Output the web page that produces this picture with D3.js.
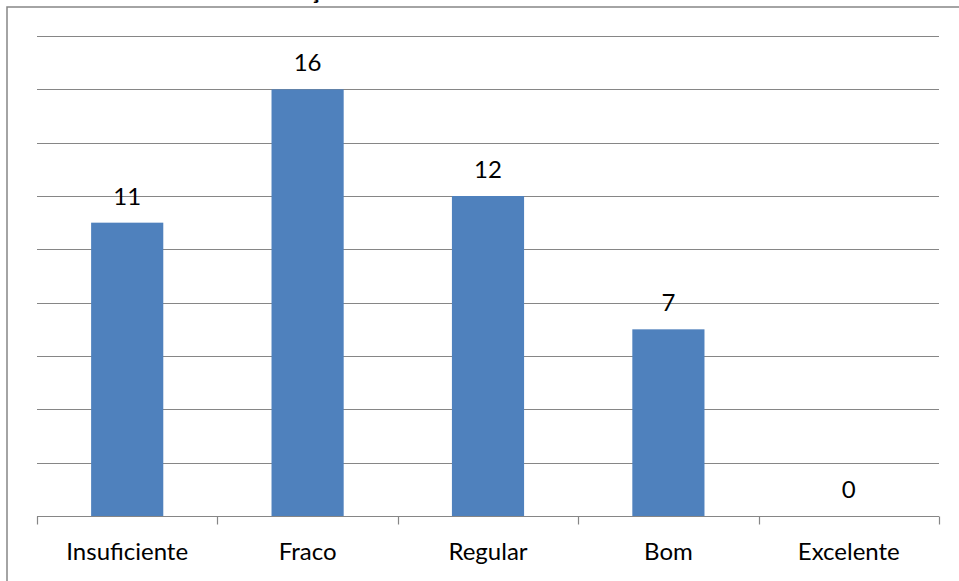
<!DOCTYPE html>
<html>
<head>
<meta charset="utf-8">
<script src="https://cdn.jsdelivr.net/npm/d3@7"></script>
<style>
html,body{margin:0;padding:0;background:#fff;}
svg{display:block;}
</style>
</head>
<body>
<svg id="chart" width="959" height="581"></svg>
<script>
const categories = ["Insuficiente", "Fraco", "Regular", "Bom", "Excelente"];
const values = [11, 16, 12, 7, 0];
const yTicks = [0, 2, 4, 6, 8, 10, 12, 14, 16, 18];
const titleFragment = "ç";

const svg = d3.select("#chart");
const W = 959, H = 581;
const m = {left: 37, right: 20, top: 36, bottom: 65};
const plotRight = W - m.right;
const plotBottom = H - m.bottom;
const FONT = "Lato, 'Open Sans', sans-serif";

// chart frame
svg.append("rect")
  .attr("x", 7).attr("y", 7)
  .attr("width", W + 20).attr("height", H + 20)
  .attr("fill", "#fff").attr("stroke", "#868686").attr("stroke-width", 1.5);

// clipped title fragment (the title runs off the top edge in the reference)
svg.append("text")
  .attr("x", 315).attr("y", -1)
  .attr("text-anchor", "middle")
  .attr("font-family", FONT).attr("font-weight", "bold").attr("font-size", 24)
  .attr("fill", "#000")
  .text(titleFragment);

const x = d3.scaleBand().domain(categories).range([m.left, plotRight]);
const y = d3.scaleLinear().domain([0, 18]).range([plotBottom, m.top]);

// gridlines
svg.append("g").selectAll("line").data(yTicks.filter(d => d > 0)).join("line")
  .attr("x1", m.left).attr("x2", plotRight)
  .attr("y1", d => Math.round(y(d)) + 0.5).attr("y2", d => Math.round(y(d)) + 0.5)
  .attr("stroke", "#868686").attr("stroke-width", 1.2);

// bars
const bw = x.bandwidth() * 0.4;
svg.append("g").selectAll("rect").data(values).join("rect")
  .attr("x", (d, i) => x(categories[i]) + x.bandwidth() / 2 - bw / 2)
  .attr("width", bw)
  .attr("y", d => y(d))
  .attr("height", d => plotBottom - y(d))
  .attr("fill", "#4F81BD");

// x axis
const xAxis = d3.axisBottom(x).tickSize(0).tickPadding(0);
const gx = svg.append("g").attr("transform", `translate(0,${Math.round(plotBottom) + 0.5})`).call(xAxis);
gx.select(".domain").attr("stroke", "#868686").attr("stroke-width", 1.2)
  .attr("d", `M${m.left},0H${plotRight}`);
gx.selectAll(".tick text")
  .attr("font-family", FONT).attr("font-size", 24).attr("fill", "#000")
  .attr("dy", null).attr("y", 43);
// tick marks at band boundaries
const bounds = categories.map(c => x(c)).concat([plotRight]);
gx.append("g").selectAll("line").data(bounds).join("line")
  .attr("x1", d => Math.round(d) + 0.5).attr("x2", d => Math.round(d) + 0.5)
  .attr("y1", 0).attr("y2", 8)
  .attr("stroke", "#868686").attr("stroke-width", 1.2);

// value labels
svg.append("g").selectAll("text").data(values).join("text")
  .attr("x", (d, i) => x(categories[i]) + x.bandwidth() / 2)
  .attr("y", d => y(d) - 18)
  .attr("text-anchor", "middle")
  .attr("font-family", FONT).attr("font-size", 24).attr("fill", "#000")
  .text(d => d);
</script>
</body>
</html>
